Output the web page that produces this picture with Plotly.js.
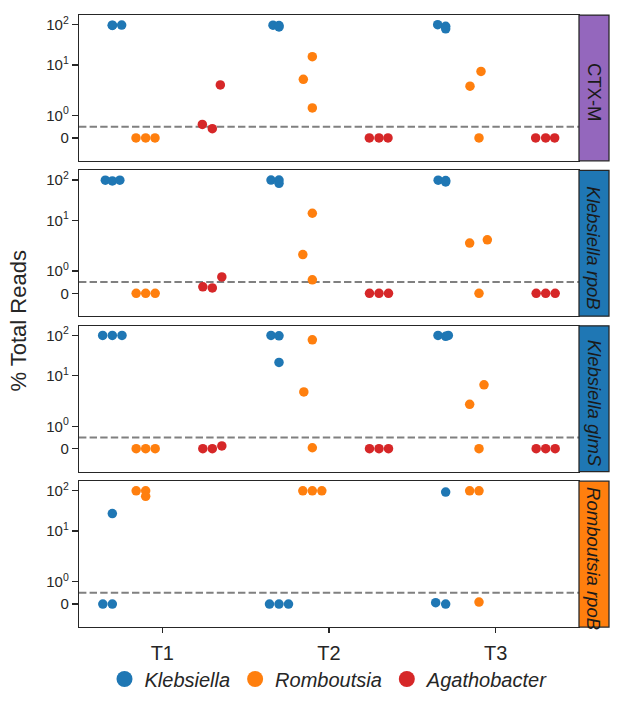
<!DOCTYPE html>
<html>
<head>
<meta charset="utf-8">
<script src="https://cdn.plot.ly/plotly-3.0.1.min.js"></script>
<style>html,body{margin:0;padding:0;background:#fff;}#chart{width:617px;height:711px;}</style>
</head>
<body>
<div id="chart"></div>
<script>
// ---------------- DATA ----------------
const timepoints = ['T1', 'T2', 'T3'];
const taxa = ['Klebsiella', 'Romboutsia', 'Agathobacter'];
const panelLabels = ['CTX-M', '<i>Klebsiella rpoB</i>', '<i>Klebsiella glmS</i>', '<i>Romboutsia rpoB</i>'];
const yTickValues = [0, 1, 10, 100];
const yTickLabels = ['0', '10<sup>0</sup>', '10<sup>1</sup>', '10<sup>2</sup>'];
const detectionLimit = 0.5;
// timepoint index of each sample (3 replicates per timepoint)
const sampleTime = [0, 0, 0, 1, 1, 1, 2, 2, 2];

// % total reads, panel CTX-M
const ctxmKlebsiella   = [96, 98, 97, 97, 95, 88, 100, 91, 79];
const ctxmRomboutsia   = [0, 0, 0, 16, 4.4, 1.34, 2.97, 6.9, 0];
const ctxmAgathobacter = [0.60, 0.41, 3.2, 0, 0, 0, 0, 0, 0];
// panel Klebsiella rpoB
const krpobKlebsiella   = [99, 95, 99, 100, 100, 83, 99, 97, 90];
const krpobRomboutsia   = [0, 0, 0, 15, 1.73, 0.60, 2.72, 3.29, 0];
const krpobAgathobacter = [0.29, 0.24, 0.73, 0, 0, 0, 0, 0, 0];
// panel Klebsiella glmS
const kglmsKlebsiella   = [100, 100, 100, 100, 98, 21.4, 100, 95, 100];
const kglmsRomboutsia   = [0, 0, 0, 77.6, 3.96, 0.04, 1.98, 5.96, 0];
const kglmsAgathobacter = [0, 0, 0.12, 0, 0, 0, 0, 0, 0];
// panel Romboutsia rpoB
const rrpobKlebsiella   = [0, 0, 27.2, 0, 0, 0, 0.06, 0, 93.3];
const rrpobRomboutsia   = [100, 100, 73, 100, 100, 100, 100, 100, 0.09];
const rrpobAgathobacter = [null, null, null, null, null, null, null, null, null];

// strip-plot jitter (category units)
const ctxmKlebsiellaJitter   = [0, 0.056, 0, -0.036, 0, 0, -0.048, 0, 0];
const ctxmRomboutsiaJitter   = [-0.058, 0, 0.056, 0, -0.054, 0, -0.054, 0.012, 0];
const ctxmAgathobacterJitter = [-0.06, 0, 0.048, -0.058, 0, 0.054, -0.06, 0, 0.054];
const krpobKlebsiellaJitter   = [-0.042, 0, 0.045, -0.048, 0, 0, -0.045, 0, 0];
const krpobRomboutsiaJitter   = [-0.057, 0, 0.057, 0, -0.057, 0, -0.056, 0.05, 0];
const krpobAgathobacterJitter = [-0.057, 0, 0.057, -0.057, 0, 0.057, -0.057, 0, 0.057];
const kglmsKlebsiellaJitter   = [-0.058, 0, 0.058, -0.048, 0, 0, -0.046, 0, 0.016];
const kglmsRomboutsiaJitter   = [-0.057, 0, 0.057, 0, -0.051, 0, -0.056, 0.03, 0];
const kglmsAgathobacterJitter = [-0.057, 0, 0.057, -0.057, 0, 0.057, -0.057, 0, 0.057];
const rrpobKlebsiellaJitter   = [-0.057, 0, 0, -0.057, 0, 0.057, -0.06, 0, 0];
const rrpobRomboutsiaJitter   = [-0.057, 0, 0, -0.057, 0, 0.057, -0.056, 0, 0];
const rrpobAgathobacterJitter = [0, 0, 0, 0, 0, 0, 0, 0, 0];

// ---------------- STYLE ----------------
const taxonColors = ['#1f77b4', '#ff7f0e', '#d62728'];
const stripColors = ['#9467bd', '#1f77b4', '#1f77b4', '#ff7f0e'];
const dodge = [-0.3, -0.1, 0.3];

const panelValues = [
  [ctxmKlebsiella, ctxmRomboutsia, ctxmAgathobacter],
  [krpobKlebsiella, krpobRomboutsia, krpobAgathobacter],
  [kglmsKlebsiella, kglmsRomboutsia, kglmsAgathobacter],
  [rrpobKlebsiella, rrpobRomboutsia, rrpobAgathobacter]
];
const panelJitter = [
  [ctxmKlebsiellaJitter, ctxmRomboutsiaJitter, ctxmAgathobacterJitter],
  [krpobKlebsiellaJitter, krpobRomboutsiaJitter, krpobAgathobacterJitter],
  [kglmsKlebsiellaJitter, kglmsRomboutsiaJitter, kglmsAgathobacterJitter],
  [rrpobKlebsiellaJitter, rrpobRomboutsiaJitter, rrpobAgathobacterJitter]
];

// symmetric log transform (linthresh 2, linscale 1, base 10)
function symlog(v) {
  if (v === null) return null;
  const c = 1 / (1 - 0.1);
  const t = 2;
  if (Math.abs(v) <= t) return v * c;
  return Math.sign(v) * t * (c + Math.log10(Math.abs(v) / t));
}

const FONT = 'Arial, "Liberation Sans", sans-serif';
const DARK = '#262626';
const nP = 4;
const gap = 0.0156;
const ph = (1 - 3 * gap) / 4;

const traces = [];
const layout = {
  width: 617, height: 711,
  margin: {l: 79, r: 38, t: 15, b: 73},
  paper_bgcolor: '#fff', plot_bgcolor: '#fff',
  font: {family: FONT, color: DARK},
  showlegend: true,
  legend: {
    orientation: 'h', x: 0.5, xanchor: 'center', y: -0.085, yanchor: 'middle',
    font: {size: 20, family: FONT, color: DARK, style: 'italic'},
    bgcolor: 'rgba(0,0,0,0)',
    itemwidth: 30, tracegroupgap: 0
  },
  shapes: [], annotations: []
};

for (let p = 0; p < nP; p++) {
  const ax = p === 0 ? '' : String(p + 1);
  const top = 1 - p * (ph + gap);
  const bot = top - ph;
  const isBottom = p === nP - 1;
  layout['xaxis' + ax] = {
    domain: [0, 1], anchor: 'y' + ax, range: [-0.5, 2.5],
    showline: true, mirror: true, linecolor: DARK, linewidth: 1.25,
    showgrid: false, zeroline: false,
    tickvals: [0, 1, 2], ticktext: timepoints,
    showticklabels: isBottom, ticks: isBottom ? 'outside' : '',
    ticklen: 5, tickwidth: 1.25, tickcolor: DARK, ticklabelstandoff: 3,
    tickfont: {size: 20, family: FONT, color: DARK}
  };
  layout['yaxis' + ax] = {
    domain: [bot, top], anchor: 'x' + ax, range: [-1.14, 6.10],
    showline: true, mirror: true, linecolor: DARK, linewidth: 1.25,
    showgrid: false, zeroline: false,
    tickvals: yTickValues.map(symlog), ticktext: yTickLabels,
    ticks: 'outside', ticklen: 6, tickwidth: 1.25, tickcolor: DARK,
    tickfont: {size: 15, family: FONT, color: DARK}
  };
  // detection limit line
  layout.shapes.push({
    type: 'line', xref: 'x' + ax, yref: 'y' + ax, x0: -0.5, x1: 2.5,
    y0: symlog(detectionLimit), y1: symlog(detectionLimit),
    line: {color: '#808080', width: 2, dash: '7.4px,3.2px'}, layer: 'below'
  });
  // facet strip
  layout.shapes.push({
    type: 'rect', xref: 'paper', yref: 'paper', x0: 1, x1: 1.06, y0: bot, y1: top,
    fillcolor: stripColors[p], line: {color: DARK, width: 1.25}, layer: 'above'
  });
  layout.annotations.push({
    xref: 'paper', yref: 'paper', x: 1.03, y: (top + bot) / 2,
    text: panelLabels[p], textangle: 90, showarrow: false,
    xanchor: 'center', yanchor: 'middle', yshift: -4,
    font: {size: 18.5, family: FONT, color: '#1a1a1a'}
  });

  for (let t = 0; t < taxa.length; t++) {
    const vals = panelValues[p][t];
    const jit = panelJitter[p][t];
    const xs = [], ys = [];
    for (let i = 0; i < vals.length; i++) {
      if (vals[i] === null) continue;
      xs.push(sampleTime[i] + dodge[t] + jit[i]);
      ys.push(symlog(vals[i]));
    }
    traces.push({
      type: 'scatter', mode: 'markers', x: xs, y: ys,
      xaxis: 'x' + ax, yaxis: 'y' + ax,
      marker: {color: taxonColors[t], size: 9.5, line: {width: 0}},
      showlegend: false, hoverinfo: 'skip', cliponaxis: false
    });
  }
}

// legend entries
for (let t = 0; t < taxa.length; t++) {
  traces.push({
    type: 'scatter', mode: 'markers', x: [null], y: [null],
    name: taxa[t], marker: {color: taxonColors[t], size: 18},
    showlegend: true
  });
}

layout.annotations.push({
  xref: 'paper', yref: 'paper', x: -0.123, y: 0.5,
  text: '% Total Reads', textangle: -90, showarrow: false,
  xanchor: 'center', yanchor: 'middle',
  font: {size: 22, family: FONT, color: DARK}
});

Plotly.newPlot('chart', traces, layout, {displayModeBar: false, staticPlot: true});
</script>
</body>
</html>
